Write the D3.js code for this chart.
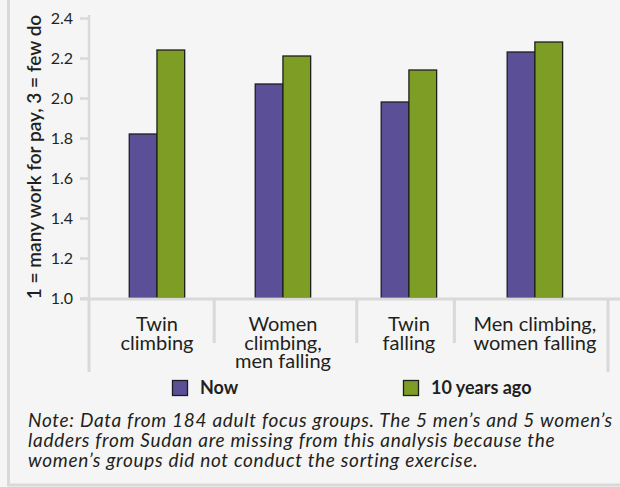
<!DOCTYPE html>
<html>
<head>
<meta charset="utf-8">
<script src="https://cdn.jsdelivr.net/npm/d3@7"></script>
<style>
  html, body { margin: 0; padding: 0; background: #f5f5f5; }
  svg { display: block; font-family: Lato, "Open Sans", sans-serif; }
</style>
</head>
<body>
<div id="viz_ladder"></div>
<script>
const categories = ["Twin climbing", "Women climbing, men falling", "Twin falling", "Men climbing, women falling"];
const categoryLines = [["Twin", "climbing"], ["Women", "climbing,", "men falling"], ["Twin", "falling"], ["Men climbing,", "women falling"]];
const seriesNames = ["Now", "10 years ago"];
const nowValues = [1.82, 2.07, 1.98, 2.23];
const tenYearsAgoValues = [2.24, 2.21, 2.14, 2.28];
const yTicks = [1.0, 1.2, 1.4, 1.6, 1.8, 2.0, 2.2, 2.4];
const yLabel = "1 = many work for pay, 3 = few do";
const noteLines = [
    "Note: Data from 184 adult focus groups. The 5 men\u2019s and 5 women\u2019s",
    "ladders from Sudan are missing from this analysis because the",
    "women\u2019s groups did not conduct the sorting exercise."
];

const width = 620, height = 487;
const gridColor = "#d9d9d9";
const textColor = "#231f20";
const myColor = d3.scaleOrdinal().domain(seriesNames).range(["#5b4f98", "#7e9d25"]);

function LadderChart(objectName)
{
    d3.select(objectName).selectAll("svg").remove();
    // attach first so getBBox works when placing the separators
    var svg = d3.select(objectName).append("svg").attr("width", width).attr("height", height);

    // frame
    svg.append("rect").attr("width", width).attr("height", height).attr("fill", "#f5f5f5");
    svg.append("line").attr("x1", 8.5).attr("x2", 8.5).attr("y1", 0).attr("y2", 485.5)
        .attr("stroke", gridColor).attr("stroke-width", 3);
    svg.append("line").attr("x1", 7).attr("x2", width).attr("y1", 485).attr("y2", 485)
        .attr("stroke", gridColor).attr("stroke-width", 3);

    var x = d3.scaleBand().domain(categories).range([89, 608])
        .paddingInner(0.56).paddingOuter(0.34).align(0.47);
    var xSeries = d3.scaleBand().domain(seriesNames).range([0, x.bandwidth()]);
    var y = d3.scaleLinear().domain([1.0, 2.4]).range([298, 18]);

    // y axis
    var yAxis = svg.append("g").attr("transform", "translate(89,0)")
        .call(d3.axisLeft(y).tickValues(yTicks).tickFormat(d3.format(".1f")).tickSize(9).tickPadding(7));
    yAxis.select(".domain").remove();
    yAxis.selectAll(".tick line").attr("stroke", gridColor).attr("stroke-width", 2.5);
    yAxis.selectAll(".tick text").attr("fill", textColor).attr("font-size", 16)
        .attr("font-family", "Lato, sans-serif");
    svg.append("line").attr("x1", 89).attr("x2", 89).attr("y1", 15).attr("y2", y(1.0))
        .attr("stroke", gridColor).attr("stroke-width", 2.5);

    svg.append("text")
        .attr("transform", "translate(41," + ((y(1.0) + 12) / 2 + 2) + ") rotate(-90)")
        .attr("text-anchor", "middle")
        .attr("font-size", 19).attr("font-weight", 600).attr("fill", textColor)
        .text(yLabel);

    // bars
    var rows = categories.map((c, i) => ({category: c, values: [nowValues[i], tenYearsAgoValues[i]]}));
    svg.append("g").selectAll("g").data(rows).join("g")
        .attr("transform", d => "translate(" + x(d.category) + ",0)")
        .selectAll("rect")
        .data(d => d.values.map((v, j) => ({series: seriesNames[j], value: v})))
        .join("rect")
        .attr("x", d => xSeries(d.series))
        .attr("y", d => y(d.value))
        .attr("width", xSeries.bandwidth())
        .attr("height", d => y(1.0) - y(d.value))
        .attr("fill", d => myColor(d.series))
        .attr("stroke", "#1e1e1e").attr("stroke-width", 1.3);

    // x axis line
    svg.append("line").attr("x1", 80).attr("x2", width).attr("y1", y(1.0) + 1).attr("y2", y(1.0) + 1)
        .attr("stroke", gridColor).attr("stroke-width", 3);

    // category labels, one text per line
    var labels = svg.append("g").selectAll("g").data(categories).join("g")
        .attr("transform", d => "translate(" + (x(d) + x.bandwidth() / 2) + ",0)");
    labels.selectAll("text").data((d, i) => categoryLines[i]).join("text")
        .attr("y", (d, i) => 331 + i * 18.5)
        .attr("text-anchor", "middle")
        .attr("font-size", 20).attr("fill", textColor)
        .text(d => d);

    // separators placed in the gap between neighbouring labels
    var edges = labels.nodes().map(function(n) {
        var b = n.getBBox(), cx = x(categories[labels.nodes().indexOf(n)]) + x.bandwidth() / 2;
        return {left: cx + b.x, right: cx + b.x + b.width};
    });
    var seps = [{x: 89, long: true}];
    for (var i = 0; i < edges.length - 1; i++)
        seps.push({x: (edges[i].right + edges[i + 1].left) / 2, long: false});
    seps.push({x: 608, long: true});
    svg.append("g").selectAll("line").data(seps).join("line")
        .attr("x1", d => d.x).attr("x2", d => d.x)
        .attr("y1", y(1.0) + 2).attr("y2", d => d.long ? 372 : 343)
        .attr("stroke", gridColor).attr("stroke-width", 3);

    // legend
    var legendX = [172, 403];
    var legend = svg.append("g").selectAll("g").data(seriesNames).join("g")
        .attr("transform", (d, i) => "translate(" + legendX[i] + ",380)");
    legend.append("rect").attr("x", 0.5).attr("y", 0.5).attr("width", 15).attr("height", 15)
        .attr("fill", d => myColor(d)).attr("stroke", "#1e1e1e").attr("stroke-width", 1.3);
    legend.append("text").attr("x", 28).attr("y", 13.5)
        .attr("font-size", 18).attr("font-weight", 700).attr("fill", textColor)
        .text(d => d);

    // note
    svg.append("g").selectAll("text").data(noteLines).join("text")
        .attr("x", 28).attr("y", (d, i) => 427 + i * 20)
        .attr("font-size", 19).attr("letter-spacing", 0.7)
        .attr("font-style", "italic").attr("fill", textColor)
        .text(d => d);

    return svg.node();
}

var chart = LadderChart("#viz_ladder");
</script>
</body>
</html>
